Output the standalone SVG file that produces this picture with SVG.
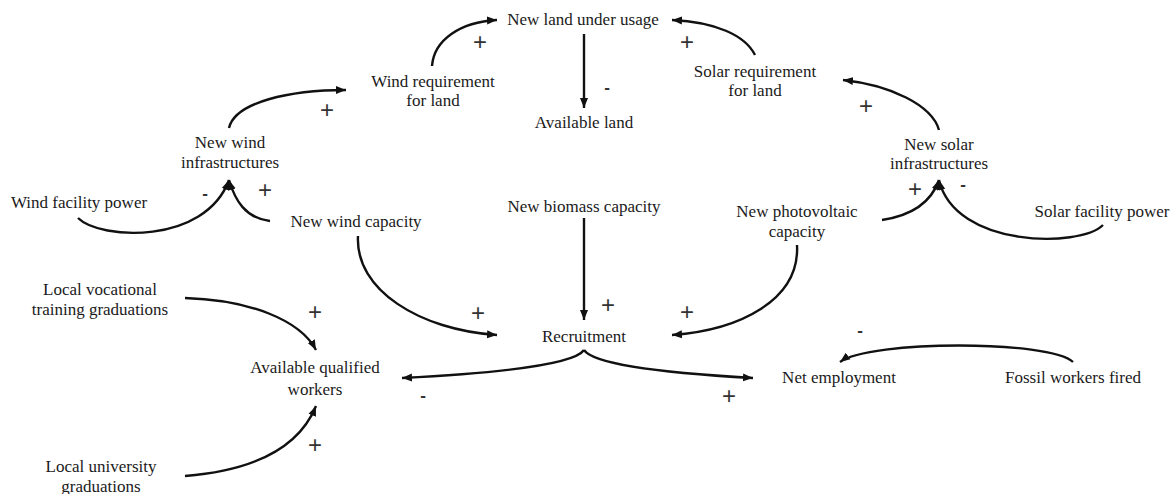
<svg xmlns="http://www.w3.org/2000/svg" width="1175" height="494" viewBox="0 0 1175 494">
<style>
.lbl{font-family:"Liberation Serif","Times New Roman",serif;font-size:17px;fill:#1a1a1a;text-anchor:middle}
.sg{font-family:"Liberation Sans",Arial,sans-serif;font-size:24px;fill:#333;text-anchor:middle}
.mn{font-family:"Liberation Sans",Arial,sans-serif;font-size:17px;font-weight:bold;fill:#333;text-anchor:middle}
.c{fill:none;stroke:#111;stroke-width:2.4;marker-end:url(#ah)}
</style>
<defs>
<marker id="ah" markerUnits="userSpaceOnUse" markerWidth="12" markerHeight="10" refX="10" refY="5" orient="auto">
<path d="M0,1 L10,5 L0,9 z" fill="#111"/>
</marker>
</defs>
<rect width="1175" height="494" fill="#fff"/>
<g id="connectors">
<path class="c" d="M229,128 C235,102 290,90 346,90"/>
<path class="c" d="M432,66 C434,40 460,22 497,20"/>
<path class="c" d="M584,34 L584,108"/>
<path class="c" d="M755,55 C745,35 715,22 672,20"/>
<path class="c" d="M939,130 C932,105 890,85 843,80"/>
<path class="c" d="M78,218 C100,240 205,245 229,180"/>
<path class="c" d="M270,221 C245,218 235,200 229,180"/>
<path class="c" d="M882,220 C915,215 932,200 939,180"/>
<path class="c" d="M1103,225 C1080,248 955,248 939,180"/>
<path class="c" d="M358,236 C355,290 420,330 497,335"/>
<path class="c" d="M584,218 L584,320"/>
<path class="c" d="M797,245 C800,300 740,330 672,335"/>
<path class="c" d="M584,350 C572,368 460,375 402,378"/>
<path class="c" d="M584,350 C596,368 700,375 753,378"/>
<path class="c" d="M185,298 C250,300 300,320 316,350"/>
<path class="c" d="M185,476 C260,470 300,445 316,406"/>
<path class="c" d="M1073,362 C1050,340 870,340 840,362"/>
</g>
<g id="signs">
<text class="sg" x="327" y="118">+</text>
<text class="sg" x="480" y="50">+</text>
<text class="mn" x="607" y="93">-</text>
<text class="sg" x="687" y="50">+</text>
<text class="sg" x="866" y="114">+</text>
<text class="mn" x="205" y="199">-</text>
<text class="sg" x="265" y="198">+</text>
<text class="sg" x="915" y="197">+</text>
<text class="mn" x="963" y="190">-</text>
<text class="sg" x="315" y="320">+</text>
<text class="sg" x="315" y="453">+</text>
<text class="sg" x="478" y="321">+</text>
<text class="sg" x="608" y="313">+</text>
<text class="sg" x="687" y="320">+</text>
<text class="mn" x="423" y="401">-</text>
<text class="sg" x="729" y="404">+</text>
<text class="mn" x="860" y="336">-</text>
</g>
<g id="n-newland"><text class="lbl" x="583" y="25">New land under usage</text></g>
<g id="n-windreq"><text class="lbl" x="433" y="87">Wind requirement</text><text class="lbl" x="433" y="106">for land</text></g>
<g id="n-availland"><text class="lbl" x="584" y="128">Available land</text></g>
<g id="n-solarreq"><text class="lbl" x="755" y="77">Solar requirement</text><text class="lbl" x="755" y="96">for land</text></g>
<g id="n-windinfra"><text class="lbl" x="230" y="148">New wind</text><text class="lbl" x="230" y="168">infrastructures</text></g>
<g id="n-windpower"><text class="lbl" x="79" y="208">Wind facility power</text></g>
<g id="n-windcap"><text class="lbl" x="356" y="227">New wind capacity</text></g>
<g id="n-biomass"><text class="lbl" x="584" y="212">New biomass capacity</text></g>
<g id="n-pv"><text class="lbl" x="797" y="217">New photovoltaic</text><text class="lbl" x="797" y="237">capacity</text></g>
<g id="n-solarinfra"><text class="lbl" x="939" y="150">New solar</text><text class="lbl" x="939" y="169">infrastructures</text></g>
<g id="n-solarpower"><text class="lbl" x="1102" y="217">Solar facility power</text></g>
<g id="n-vocational"><text class="lbl" x="100" y="295">Local vocational</text><text class="lbl" x="100" y="315">training graduations</text></g>
<g id="n-workers"><text class="lbl" x="315" y="373">Available qualified</text><text class="lbl" x="315" y="395">workers</text></g>
<g id="n-university"><text class="lbl" x="101" y="472">Local university</text><text class="lbl" x="101" y="492">graduations</text></g>
<g id="n-recruitment"><text class="lbl" x="584" y="342">Recruitment</text></g>
<g id="n-netemp"><text class="lbl" x="839" y="383">Net employment</text></g>
<g id="n-fossil"><text class="lbl" x="1073" y="383">Fossil workers fired</text></g>
</svg>
